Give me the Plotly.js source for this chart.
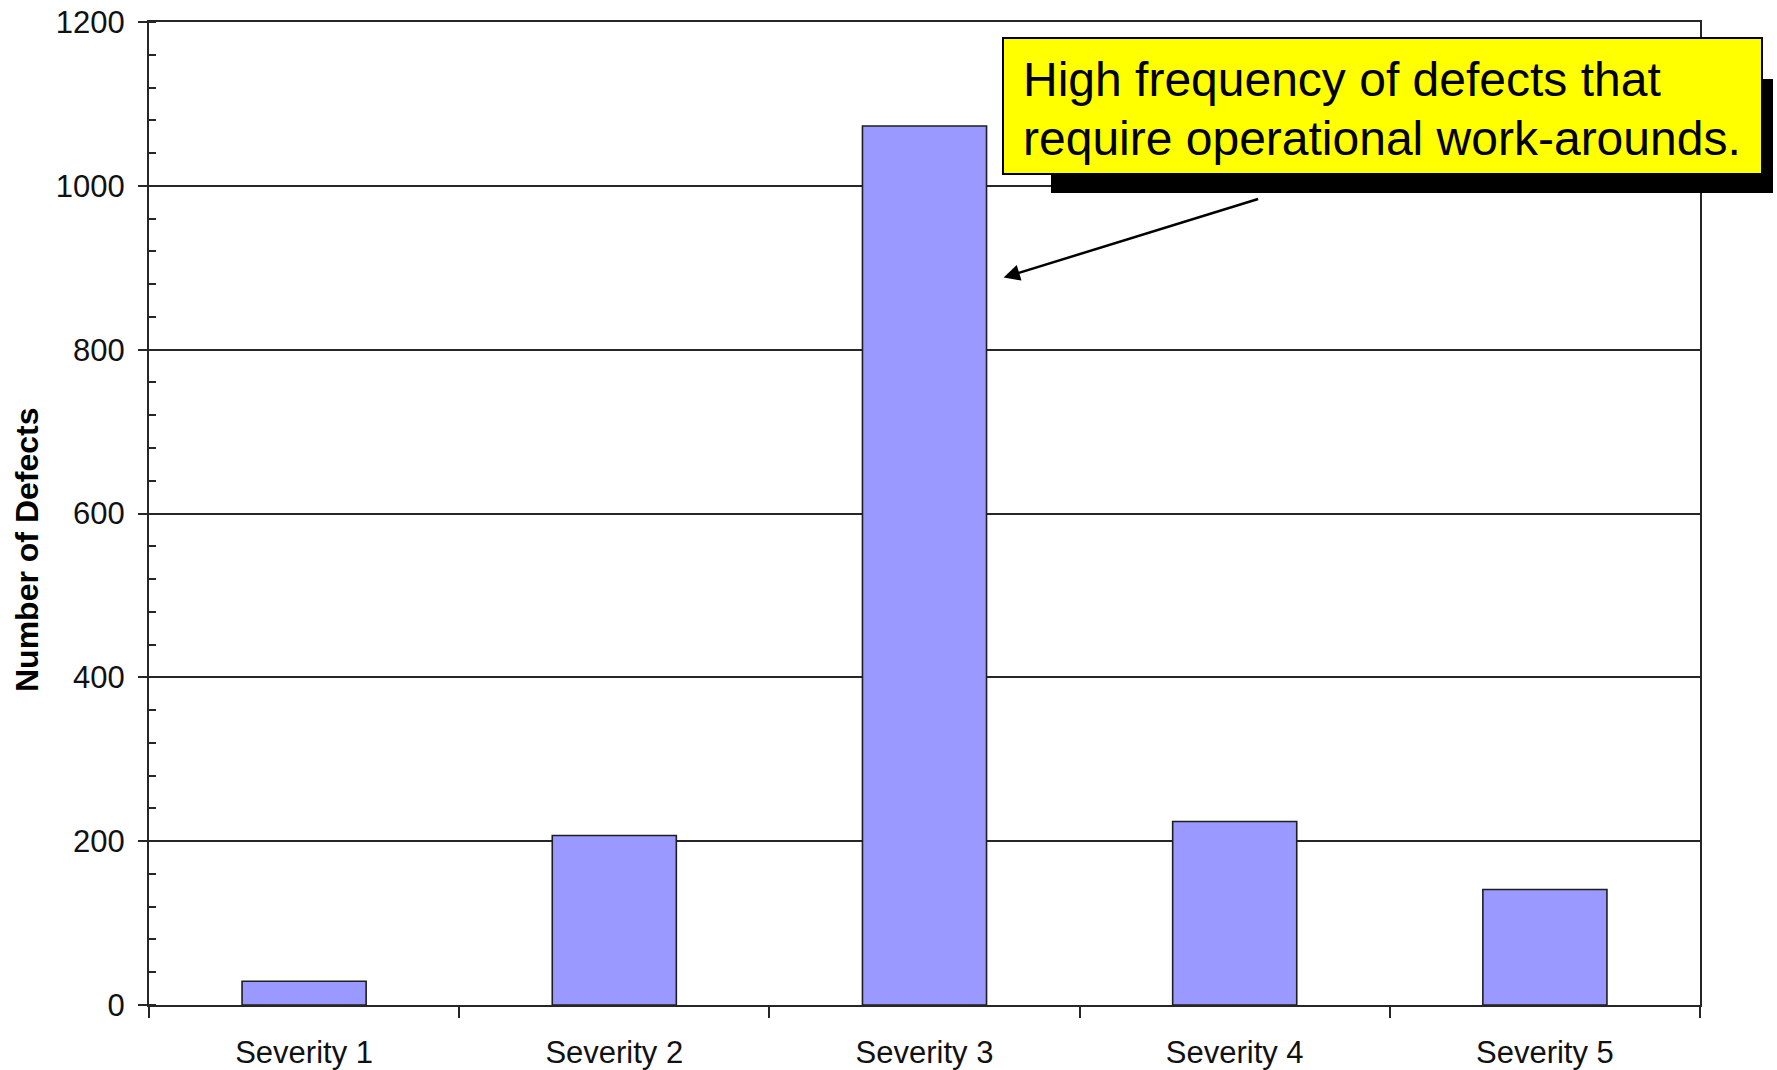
<!DOCTYPE html>
<html>
<head>
<meta charset="utf-8">
<script src="https://cdn.plot.ly/plotly-3.0.1.min.js"></script>
<style>
  html, body { margin: 0; padding: 0; background: #ffffff; }
  #chart { width: 1777px; height: 1070px; }
</style>
</head>
<body>
<div id="chart"></div>
<script>
// ---- Data ----
const categories = ["Severity 1", "Severity 2", "Severity 3", "Severity 4", "Severity 5"];
const defectCounts = [29, 207, 1073, 224, 141];
const yTickValues = [0, 200, 400, 600, 800, 1000, 1200];
const yTickLabels = ["0", "200", "400", "600", "800", "1000", "1200"];
const yAxisTitle = "Number of Defects";
const calloutLines = ["High frequency of defects that", "require operational work-arounds."];
const calloutTarget = { category: 2.255, value: 888 };

// ---- Layout geometry (pixels) ----
const W = 1777, H = 1070;
const M = { l: 149, r: 77, t: 22, b: 65 };
const PW = W - M.l - M.r, PH = H - M.t - M.b;
function px(x) { return (x - M.l) / PW; }
function py(y) { return (M.t + PH - y) / PH; }

const font = "Liberation Sans, Arial, sans-serif";
const lineCol = "#262626";

const trace = {
  type: "bar",
  x: categories,
  y: defectCounts,
  marker: { color: "#9999FF", line: { color: "#1e1e1e", width: 1.6 } },
  hoverinfo: "x+y"
};

const layout = {
  width: W, height: H,
  margin: M,
  paper_bgcolor: "#ffffff",
  plot_bgcolor: "#ffffff",
  showlegend: false,
  bargap: 0.6,
  font: { family: font, size: 31, color: "#111111" },
  xaxis: {
    type: "category",
    categoryorder: "array",
    categoryarray: categories,
    tickson: "boundaries",
    ticks: "outside",
    ticklen: 11,
    tickwidth: 2,
    tickcolor: lineCol,
    showline: true,
    linecolor: lineCol,
    linewidth: 2,
    mirror: true,
    showgrid: false,
    zeroline: false,
    automargin: false,
    tickfont: { family: font, size: 31, color: "#111111" },
    ticklabelstandoff: 19
  },
  yaxis: {
    range: [0, 1200],
    tickvals: yTickValues,
    ticktext: yTickLabels,
    ticks: "outside",
    ticklen: 9,
    tickwidth: 2,
    tickcolor: lineCol,
    showline: true,
    linecolor: lineCol,
    linewidth: 2,
    mirror: true,
    showgrid: true,
    gridcolor: lineCol,
    gridwidth: 2,
    zeroline: false,
    automargin: false,
    tickfont: { family: font, size: 31, color: "#111111" },
    ticklabelstandoff: 7,
    minor: { dtick: 40, tick0: 0, ticks: "inside", ticklen: 7, tickwidth: 2, tickcolor: lineCol, showgrid: false }
  },
  shapes: [
    { type: "rect", xref: "paper", yref: "paper", layer: "above",
      x0: px(1051), x1: px(1773), y0: py(193), y1: py(79),
      fillcolor: "#000000", line: { width: 0 } },
    { type: "rect", xref: "paper", yref: "paper", layer: "above",
      x0: px(1003), x1: px(1762), y0: py(174), y1: py(38),
      fillcolor: "#FFFF00", line: { color: "#000000", width: 2 } }
  ],
  annotations: [
    { xref: "paper", yref: "paper", x: px(1021), y: py(79), xanchor: "left", yanchor: "middle",
      text: calloutLines[0], showarrow: false, font: { family: font, size: 48, color: "#000000" } },
    { xref: "paper", yref: "paper", x: px(1021), y: py(138), xanchor: "left", yanchor: "middle",
      text: calloutLines[1], showarrow: false, font: { family: font, size: 48, color: "#000000" } },
    { xref: "x", yref: "y", x: calloutTarget.category, y: calloutTarget.value,
      ax: 256, ay: -79, text: "", showarrow: true,
      arrowhead: 2, arrowsize: 1.3, arrowwidth: 2.5, arrowcolor: "#000000", standoff: 0 },
    { xref: "paper", yref: "paper", x: px(27), y: py(550), xanchor: "center", yanchor: "middle",
      textangle: -90, text: yAxisTitle, showarrow: false,
      font: { family: font, size: 32, color: "#000000", weight: "bold" } }
  ]
};

Plotly.newPlot("chart", [trace], layout, { displayModeBar: false, staticPlot: true });
</script>
</body>
</html>
